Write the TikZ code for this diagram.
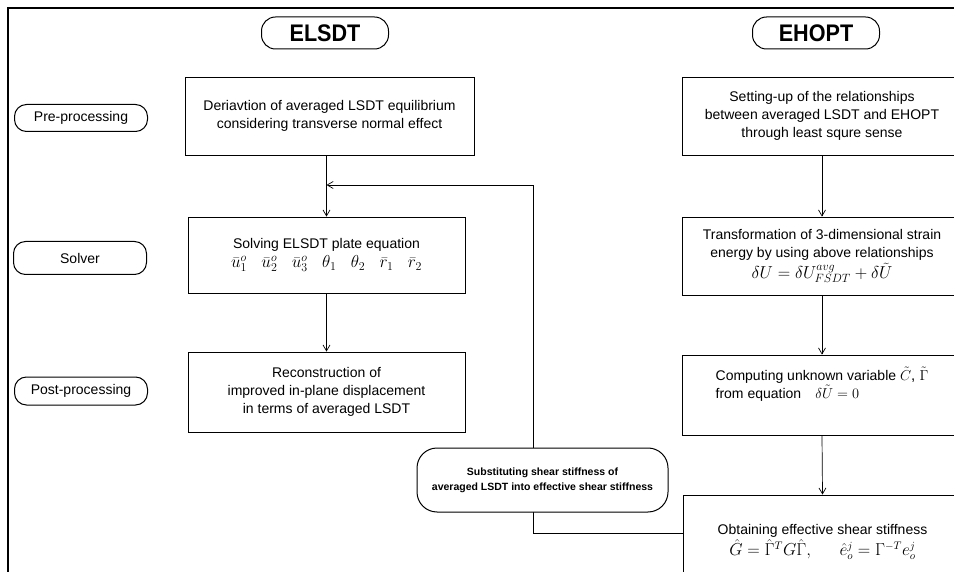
\documentclass[tikz,border=0pt]{standalone}
\usepackage{fontspec}
\setmainfont{Liberation Sans}
\usetikzlibrary{arrows.meta,calc}
\newcommand{\mymathbig}[1]{{\fontsize{17}{20}\selectfont$#1$}}
\begin{document}
\begin{tikzpicture}[x=1pt,y=-1pt,
  txt/.style={font=\fontsize{14}{18}\selectfont},
  box/.style={draw,line width=0.8pt,align=center,txt,inner sep=2pt},
  pill/.style={draw,line width=1pt,rounded corners=12pt,align=center,inner sep=2pt,fill=white},
  titlepill/.style={pill,rounded corners=14pt,font=\fontsize{24}{24}\bfseries\selectfont,minimum width=127pt,minimum height=32pt},
  sidepill/.style={pill,txt,minimum width=133pt},
  arr/.style={line width=0.7pt,-{Straight Barb[length=6pt,width=7pt]}},
  frame/.style={line width=2pt}
]
\useasboundingbox (0,0) rectangle (954,572);
\begin{scope}
\clip (0,0) rectangle (954,572);
% frame
\draw[frame] (8,572) -- (8,8) -- (954,8);

% titles
\node[titlepill] (t1) at (325,33) {\scalebox{0.9}[1]{ELSDT}};
\node[titlepill] (t2) at (816,33) {\scalebox{0.9}[1]{EHOPT}};

% side labels
\node[sidepill,minimum height=27pt] (lpre) at (81,118) {Pre-processing};
\node[sidepill,minimum height=33pt] (lsol) at (80,258) {Solver};
\node[sidepill,minimum height=28pt] (lpost) at (81,391) {Post-processing};

% left column
\node[box,minimum width=289pt,minimum height=78pt] (d1) at (329.5,116)
  {Deriavtion of averaged LSDT equilibrium\\considering transverse normal effect};
\node[box,minimum width=277pt,minimum height=76pt] (d2) at (326.5,255)
  {Solving ELSDT plate equation\\[1pt]
   \mymathbig{\bar u_1^o\;\;\;\bar u_2^o\;\;\;\bar u_3^o\;\;\;\theta_1\;\;\;\theta_2\;\;\;\bar r_1\;\;\;\bar r_2}};
\node[box,minimum width=277pt,minimum height=80pt] (d3) at (326.5,392)
  {Reconstruction of\\improved in-plane displacement\\in terms of averaged LSDT};

% right column
\node[box,minimum width=280pt,minimum height=78pt] (r1) at (822,116)
  {Setting-up of the relationships\\between averaged LSDT and EHOPT\\through least squre sense};
\node[box,minimum width=280pt,minimum height=78pt] (r2) at (822,256)
  {Transformation of 3-dimensional strain\\energy by using above relationships\\[2pt]
   \mymathbig{\delta U=\delta U^{avg}_{FSDT}+\delta\tilde U}};
\node[box,minimum width=280pt,minimum height=80pt,align=left] (r3) at (822,395)
  {Computing unknown variable {\fontsize{15}{18}\selectfont$\tilde C$, $\tilde\Gamma$}\\from equation\quad {\fontsize{15}{18}\selectfont$\delta\tilde U=0$}\\[6pt]};
\node[box,minimum width=279pt,minimum height=94pt] (r4) at (822.5,542)
  {Obtaining effective shear stiffness\\[1pt]
   {\fontsize{16}{19}\selectfont$\hat G=\hat\Gamma^T G\hat\Gamma,\quad\;\; \hat e_o^j=\Gamma^{-T}e_o^j$}};

% arrows
\draw[arr] (d1.south -| d2.north) -- (d2.north);
\draw[arr] (d2.south) -- (d3.north);
\draw[arr] (r1.south) -- (r2.north);
\draw[arr] (r2.south) -- (r3.north);
\draw[arr] (r3.south) -- (r4.north);

% feedback loop
\coordinate (fbc) at (533,185);
\coordinate (join) at (326.5,185);
\draw[line width=0.8pt] ([yshift=9pt]r4.west) -| (fbc);
\draw[arr] (fbc) -- (join);
\node[pill,rounded corners=20pt,minimum width=251pt,minimum height=64pt,
      font=\fontsize{10.5}{15}\bfseries\selectfont] (sub) at (542.5,480)
  {Substituting shear stiffness of\\averaged LSDT into effective shear stiffness};
\end{scope}
\end{tikzpicture}
\end{document}
